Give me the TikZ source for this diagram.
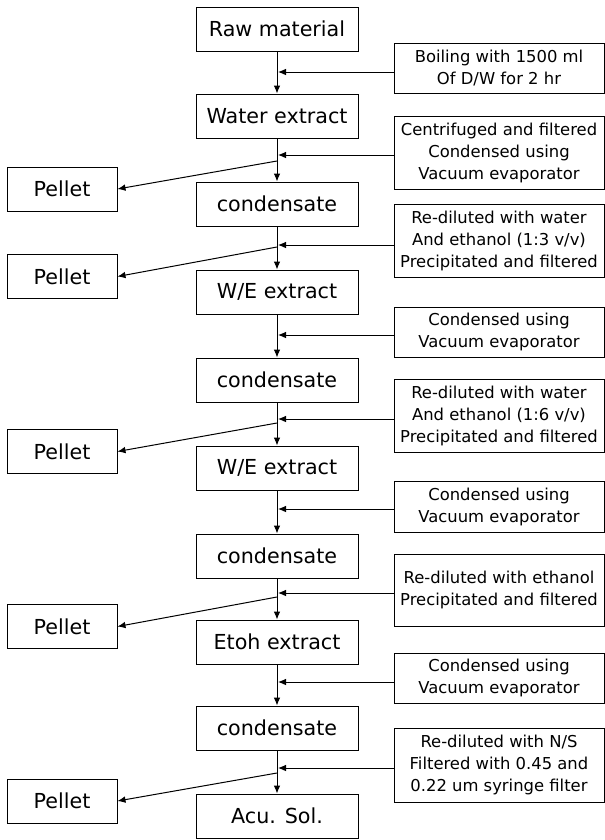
\documentclass[tikz,border=0pt]{standalone}
\usepackage{fontspec}
\setmainfont{DejaVu Sans}
\usetikzlibrary{arrows.meta}

\begin{document}
\begin{tikzpicture}[
  x=0.75pt,y=-0.75pt,
  mainbox/.style={
    draw,line width=0.75pt,
    minimum width=121.5pt,minimum height=33pt,inner sep=0pt,
    font=\fontsize{15.5}{18}\selectfont,
    },
  sidebox/.style={
    draw,line width=0.75pt,
    minimum width=157.5pt,minimum height=#1,inner sep=0pt,
    align=center,font=\fontsize{12.3}{16.5}\selectfont,
    },
  pelletbox/.style={
    draw,line width=0.75pt,
    minimum width=82.5pt,minimum height=33pt,inner sep=0pt,
    font=\fontsize{15.5}{18}\selectfont,
    },
  flow/.style={line width=0.75pt,-{Latex[length=6pt,width=5pt]}},
  ]
  \useasboundingbox (0,0) rectangle (605,840);

  % main column
  \node[mainbox] (m1) at (277,29) {Raw material};
  \node[mainbox] (m2) at (277,116) {Water extract};
  \node[mainbox] (m3) at (277,204) {condensate};
  \node[mainbox] (m4) at (277,292) {W/E extract};
  \node[mainbox] (m5) at (277,380) {condensate};
  \node[mainbox] (m6) at (277,468) {W/E extract};
  \node[mainbox] (m7) at (277,556) {condensate};
  \node[mainbox] (m8) at (277,642) {Etoh extract};
  \node[mainbox] (m9) at (277,728) {condensate};
  \node[mainbox] (m10) at (277,816) {Acu. Sol.};

  \draw[flow] (m1) -- (m2);
  \draw[flow] (m2) -- (m3);
  \draw[flow] (m3) -- (m4);
  \draw[flow] (m4) -- (m5);
  \draw[flow] (m5) -- (m6);
  \draw[flow] (m6) -- (m7);
  \draw[flow] (m7) -- (m8);
  \draw[flow] (m8) -- (m9);
  \draw[flow] (m9) -- (m10);

  % treatments
  \node[sidebox=37.5pt] (s1) at (499,68)
    {Boiling with 1500 ml\\Of D/W for 2 hr};
  \node[sidebox=54.75pt] (s2) at (499,152.5)
    {Centrifuged and filtered\\Condensed using\\Vacuum evaporator};
  \node[sidebox=54.75pt] (s3) at (499,240.5)
    {Re-diluted with water\\And ethanol (1:3 v/v)\\Precipitated and filtered};
  \node[sidebox=37.5pt] (s4) at (499,332)
    {Condensed using\\Vacuum evaporator};
  \node[sidebox=54.75pt] (s5) at (499,415.5)
    {Re-diluted with water\\And ethanol (1:6 v/v)\\Precipitated and filtered};
  \node[sidebox=38.25pt] (s6) at (499,506.5)
    {Condensed using\\Vacuum evaporator};
  \node[sidebox=54pt] (s7) at (499,590)
    {Re-diluted with ethanol\\Precipitated and filtered};
  \node[sidebox=37.5pt] (s8) at (499,678)
    {Condensed using\\Vacuum evaporator};
  \node[sidebox=55.5pt] (s9) at (499,765)
    {Re-diluted with N/S\\Filtered with 0.45 and\\0.22 um syringe filter};

  \coordinate (j1) at (278,72);
  \coordinate (j2) at (278,155);
  \coordinate (j3) at (278,245);
  \coordinate (j4) at (278,335);
  \coordinate (j5) at (278,419);
  \coordinate (j6) at (278,509);
  \coordinate (j7) at (278,593);
  \coordinate (j8) at (278,682);
  \coordinate (j9) at (278,768);

  \draw[flow] (s1.west |- j1) -- (j1);
  \draw[flow] (s2.west |- j2) -- (j2);
  \draw[flow] (s3.west |- j3) -- (j3);
  \draw[flow] (s4.west |- j4) -- (j4);
  \draw[flow] (s5.west |- j5) -- (j5);
  \draw[flow] (s6.west |- j6) -- (j6);
  \draw[flow] (s7.west |- j7) -- (j7);
  \draw[flow] (s8.west |- j8) -- (j8);
  \draw[flow] (s9.west |- j9) -- (j9);

  % pellets
  \node[pelletbox] (p1) at (62,189) {Pellet};
  \node[pelletbox] (p2) at (62,276.5) {Pellet};
  \node[pelletbox] (p3) at (62,451.5) {Pellet};
  \node[pelletbox] (p4) at (62,626.5) {Pellet};
  \node[pelletbox] (p5) at (62,801) {Pellet};

  \coordinate (b1) at (277,161);
  \coordinate (b2) at (277,247);
  \coordinate (b3) at (277,423);
  \coordinate (b4) at (277,597);
  \coordinate (b5) at (277,773);

  \draw[flow] (b1) -- (p1.east);
  \draw[flow] (b2) -- (p2.east);
  \draw[flow] (b3) -- (p3.east);
  \draw[flow] (b4) -- (p4.east);
  \draw[flow] (b5) -- (p5.east);
\end{tikzpicture}
\end{document}
